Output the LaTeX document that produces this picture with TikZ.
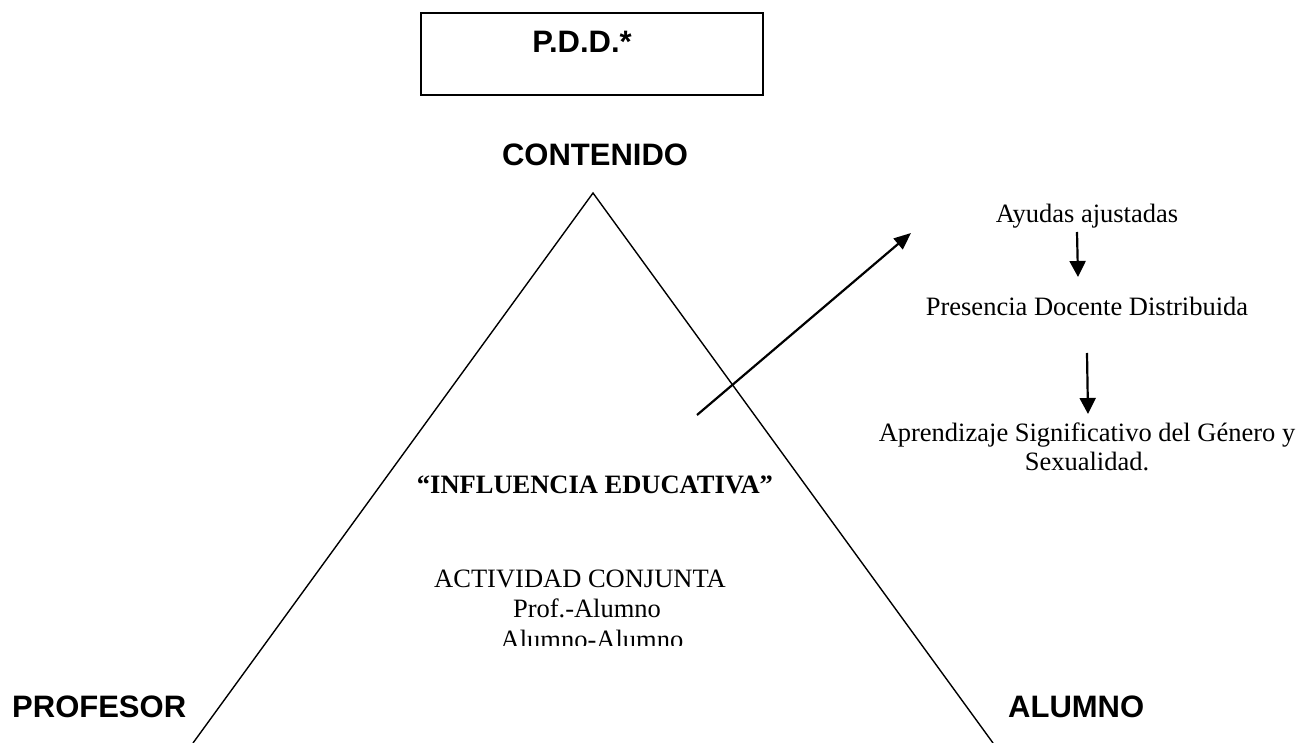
\documentclass[tikz,border=0pt]{standalone}
\usepackage{fontspec}
\setmainfont{Liberation Serif}
\newfontfamily\arialf{Liberation Sans}
\usetikzlibrary{arrows.meta}
\tikzset{
  head/.style={font=\arialf\bfseries\fontsize{31}{36}\selectfont, inner sep=0pt},
  serif/.style={font=\fontsize{26.5}{28.3}\selectfont, inner sep=0pt},
  serifb/.style={font=\bfseries\fontsize{26.5}{29}\selectfont, inner sep=0pt},
  conn/.style={line width=2.2pt, -{Triangle[length=17pt,width=14pt]}},
  vconn/.style={line width=2.2pt, -{Triangle[length=16pt,width=16pt]}},
  tri/.style={line width=1.4pt}
}
\begin{document}
\begin{tikzpicture}[x=1pt,y=-1pt]
\useasboundingbox (0,0) rectangle (1299,743);
\fill[white] (0,0) rectangle (1299,743);
% box
\node[draw, line width=1.3pt, minimum width=342pt, minimum height=82pt, inner sep=0pt] (box) at (592,54) {};
\node[head, anchor=base] (pdd) at (582,53) {P.D.D.*};
\node[head, anchor=base] (cont) at (595,166) {CONTENIDO};
\node[head, anchor=base west] (prof) at (12,717) {PROFESOR};
\node[head, anchor=base west] (alum) at (1008,717) {ALUMNO};
% triangle
\coordinate (apex) at (593,193);
\coordinate (bl) at (193,743);
\coordinate (br) at (993,743);
\draw[tri] (bl) -- (apex) -- (br);
% inner text
\node[serifb, anchor=base] (infl) at (595,493) {``INFLUENCIA EDUCATIVA''};
\node[serif, anchor=base] (act) at (580,587) {ACTIVIDAD CONJUNTA};
\node[serif, anchor=base] (pa) at (587,617) {Prof.-Alumno};
\begin{scope}
\clip (0,0) rectangle (1299,645.5);
\node[serif, anchor=base] (aa) at (592,648) {Alumno-Alumno};
\end{scope}
% right side
\node[serif, anchor=base] (ayu) at (1087,223) {Ayudas ajustadas};
\node[serif, anchor=base] (pres) at (1087,316) {Presencia Docente Distribuida};
\node[serif, anchor=base, align=center] (apr) at (1087,470) {Aprendizaje Significativo del Género y\\Sexualidad.};
% arrows
\coordinate (d1) at (697,415);
\coordinate (d2) at (911,233);
\draw[conn] (d1) -- (d2);
\coordinate (a1) at (1077,232);
\coordinate (a2) at (1078,277);
\draw[vconn] (a1) -- (a2);
\coordinate (b1) at (1087,353);
\coordinate (b2) at (1088,414);
\draw[vconn] (b1) -- (b2);
\end{tikzpicture}
\end{document}
